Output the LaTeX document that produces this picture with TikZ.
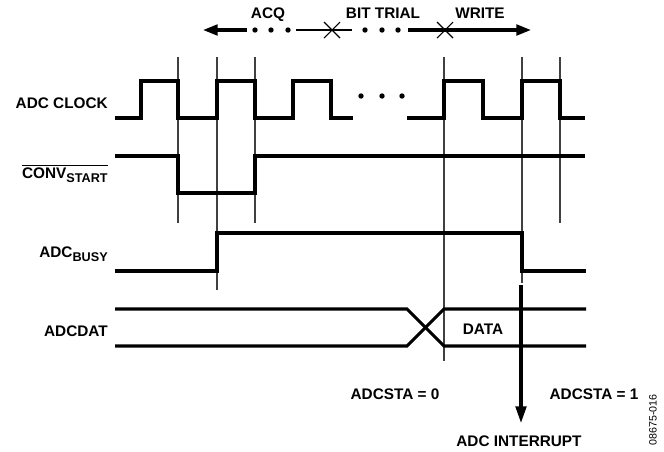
\documentclass[tikz,border=0pt]{standalone}
\usepackage{fontspec}
\setmainfont{Liberation Sans}
\usetikzlibrary{arrows.meta}
\tikzset{
  sig/.style={line width=2.3pt, line join=miter},
  guide/.style={line width=0.8pt, draw=black!75},
  lbl/.style={font=\fontsize{11.5}{13}\selectfont\bfseries, inner sep=0pt},
  dotmark/.style={fill=black, draw=none},
  xmark/.style={line width=0.8pt},
}
\newcommand{\subsc}[1]{\raisebox{-3.2pt}{\fontsize{9.5}{10}\selectfont #1}}
\begin{document}
\begin{tikzpicture}[x=0.75pt,y=-0.75pt]
\useasboundingbox (0,0) rectangle (664,451);

% guide lines
\foreach \xx/\yb in {178/223, 217/290, 255/223, 444/361, 522/283, 560/223}
  \draw[guide] (\xx,57) -- (\xx,\yb);

% top phase arrow
\coordinate (la) at (247,30);
\coordinate (lt) at (203,30);
\coordinate (ra) at (408,30);
\coordinate (rt) at (531,30);
\draw[line width=2.3pt, -{Triangle[length=11pt,width=8pt]}] (la) -- (lt);
\draw[line width=2.3pt, -{Triangle[length=11pt,width=8pt]}] (ra) -- (rt);
\draw[line width=0.9pt] (296,30) -- (352,30);
\foreach \xx in {255,271,288,365,382,398}
  \fill[dotmark] (\xx,30) circle (2.7);
\foreach \xx in {332,445}
  \draw[xmark] (\xx-8,22) -- (\xx+8,38) (\xx-8,38) -- (\xx+8,22);
\node[lbl, anchor=base] (acq) at (268,18) {ACQ};
\node[lbl, anchor=base] (bit) at (383,18) {BIT TRIAL};
\node[lbl, anchor=base] (wr) at (480,18) {WRITE};

% ADC clock
\draw[sig] (115,118) -- (141,118) -- (141,81) -- (178,81) -- (178,118) -- (217,118)
  -- (217,81) -- (255,81) -- (255,118) -- (293,118) -- (293,81) -- (331,81) -- (331,118) -- (353,118);
\draw[sig] (407,118) -- (444,118) -- (444,81) -- (483,81) -- (483,118) -- (522,118)
  -- (522,81) -- (560,81) -- (560,118) -- (585,118);
\foreach \xx in {361,382,402}
  \fill[dotmark] (\xx,96) circle (2.7);

% CONV start
\draw[sig] (115,156) -- (178,156) -- (178,193) -- (255,193) -- (255,156) -- (585,156);

% ADC busy
\draw[sig] (115,271) -- (217,271) -- (217,233) -- (522,233) -- (522,271) -- (586,271);

% ADCDAT
\draw[sig] (115,309) -- (407,309) -- (444,346) -- (586,346);
\draw[sig] (115,346) -- (407,346) -- (444,309) -- (586,309);

% interrupt arrow
\coordinate (ia) at (521,285);
\node[lbl, anchor=base] (irq) at (519,446) {ADC INTERRUPT};
\coordinate (it) at (521,423);
\draw[line width=2.3pt, -{Triangle[length=12.5pt,width=8pt]}] (ia) -- (it);

% labels
\node[lbl, anchor=base east] (clk) at (108,108) {ADC CLOCK};
\node[lbl, anchor=base east] (conv) at (108,178) {$\overline{\hbox{\fontsize{11.5}{13}\selectfont\bfseries CONV\subsc{START}}}$};
\node[lbl, anchor=base east] (busy) at (108,257) {ADC\subsc{BUSY}};
\node[lbl, anchor=base east] (dat) at (108,336) {ADCDAT};
\node[lbl, anchor=base] (data) at (483,334) {DATA};
\node[lbl, anchor=base] (s0) at (395,399) {ADCSTA = 0};
\node[lbl, anchor=base] (s1) at (594,399) {ADCSTA = 1};
\node[font=\fontsize{8}{9}\selectfont, rotate=90, inner sep=0pt] (fig) at (653,420) {08675-016};
\end{tikzpicture}
\end{document}
